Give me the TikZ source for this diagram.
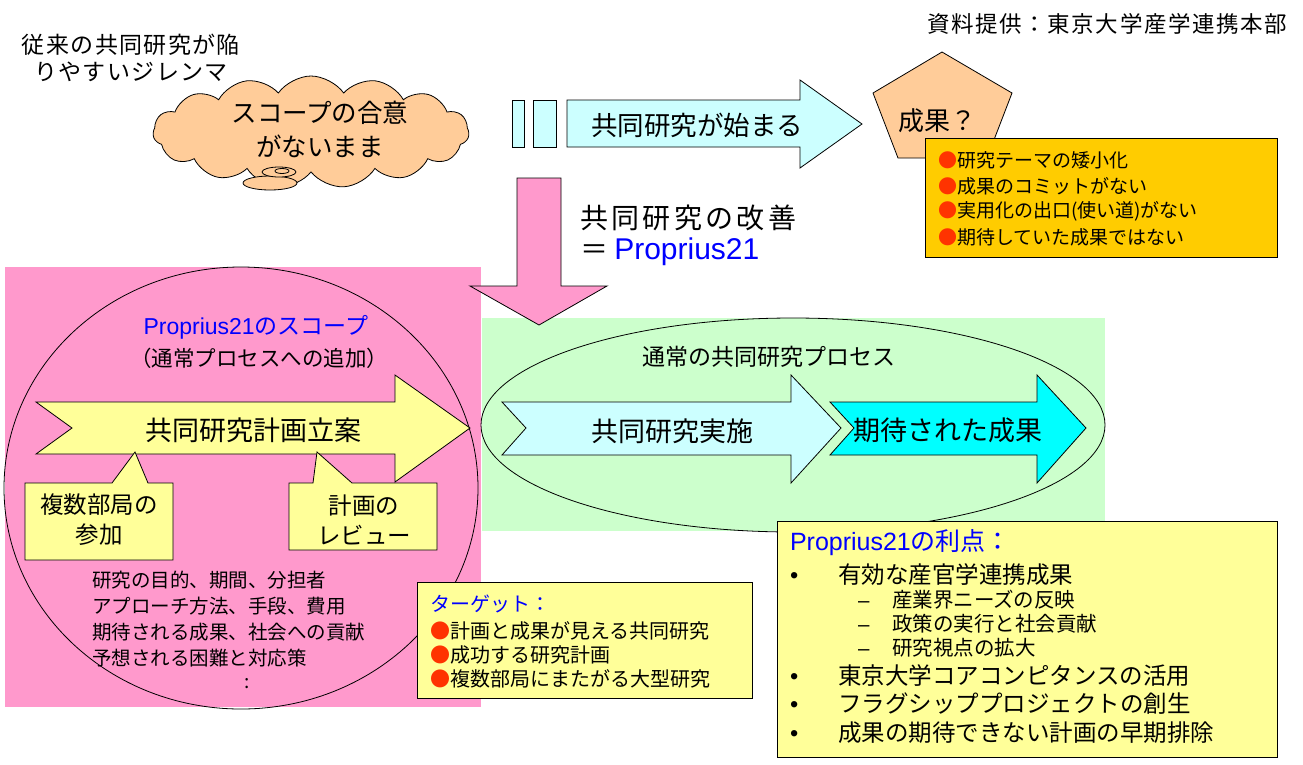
\documentclass[tikz,border=0pt]{standalone}
\usepackage{fontspec}
\setmainfont{Noto Sans CJK JP}
\newfontfamily\latinSty{Liberation Sans}
\usetikzlibrary{shapes.symbols}
\definecolor{peach}{HTML}{FFCC99}
\definecolor{gold}{HTML}{FFCC00}
\definecolor{paleyellow}{HTML}{FFFF99}
\definecolor{pinkbg}{HTML}{FF99CC}
\definecolor{greenbg}{HTML}{CCFFCC}
\definecolor{palecyan}{HTML}{CCFFFF}
\definecolor{brightcyan}{HTML}{00FFFF}
\definecolor{textblue}{HTML}{0000FF}
\definecolor{dotred}{HTML}{FF3300}
\newcommand{\redDot}{{\color{dotred}●}}
\newcommand{\blueSty}[1]{{\color{textblue}#1}}
\newcommand{\fsz}[1]{\fontsize{#1}{1.3\dimexpr#1pt\relax}\selectfont}
\newcommand{\spaced}[1]{\addfontfeature{LetterSpace=#1}}
\tikzset{
  outline/.style={draw=black, line width=0.8pt, line join=miter},
  txt/.style={inner sep=0pt, outer sep=0pt},
}

\begin{document}
\begin{tikzpicture}[x=1pt, y=-1pt]

		% page
		\fill[white] (0,0) rectangle (1303,764);
		\useasboundingbox (0,0) rectangle (1303,764);

		% source
		\node[txt, anchor=east, font=\fsz{22.5}\spaced{7}] (source) at (1287,24) {資料提供：東京大学産学連携本部};

		% dilemma
		\node[txt, align=center, font=\fontsize{23}{27}\selectfont\spaced{6}] (dilemma) at (131,58) {従来の共同研究が陥\\りやすいジレンマ};

		% cloud
		\node[cloud, outline, fill=peach, cloud puffs=15, cloud puff arc=110, aspect=2.8, minimum width=316pt, minimum height=112pt, inner sep=0pt] (cloud) at (311,132) {};
		\draw[outline, fill=peach] (270,183) ellipse [x radius=27pt, y radius=7pt];
		\draw[outline, fill=peach] (279,172) ellipse [x radius=17pt, y radius=5pt];
		\draw[outline, fill=peach] (282,171) ellipse [x radius=7pt, y radius=2.5pt];
		\node[txt, align=center, font=\fontsize{25.5}{34}\selectfont] (scopeless) at (320,129) {スコープの合意\\がないまま};

		% start arrow
		\draw[outline, fill=palecyan] (512,100) rectangle (524,147);
		\draw[outline, fill=palecyan] (533,100) rectangle (556,147);
		\draw[outline, fill=palecyan] (567,100) -- (800,100) -- (800,80) -- (862,124) -- (800,168) -- (800,147) -- (567,147) -- cycle;
		\node[txt, font=\fsz{26.5}] (start) at (697,125) {共同研究が始まる};

		% result?
		\draw[outline, fill=peach] (942,52) -- (1012,93) -- (987,158) -- (898,158) -- (873,93) -- cycle;
		\node[txt, font=\fsz{26}] (result) at (937,121) {成果？};

		% flaws
		\draw[outline, fill=gold] (925,138) rectangle (1277,257);
		\node[txt, anchor=west, font=\fsz{19}] (flawA) at (938,160) {\redDot 研究テーマの矮小化};
		\node[txt, anchor=west, font=\fsz{19}] (flawB) at (938,186) {\redDot 成果のコミットがない};
		\node[txt, anchor=west, font=\fsz{19}] (flawC) at (938,211) {\redDot 実用化の出口(使い道)がない};
		\node[txt, anchor=west, font=\fsz{19}] (flawD) at (938,237) {\redDot 期待していた成果ではない};

		% improvement
		\node[txt, anchor=west, font=\fsz{28}\spaced{12}] (kaizen) at (580,218) {共同研究の改善};
		\node[txt, anchor=west, font=\fsz{28}] (kaizenEq) at (580,252) {＝ \blueSty{\latinSty\fontsize{30}{36}\selectfont Proprius21}};

		% backgrounds
		\fill[pinkbg] (5,267) rectangle (481,707);
		\fill[greenbg] (482,318) rectangle (1105,531);
		\draw[outline] (241,488) ellipse [x radius=237pt, y radius=221pt];
		\draw[outline] (793,425) ellipse [x radius=312pt, y radius=107pt];

		% down arrow
		\draw[outline, fill=pinkbg] (517,178) -- (561,178) -- (561,286) -- (607,286) -- (539,325) -- (470,286) -- (517,286) -- cycle;

		% scope
		\node[txt, font=\fsz{23}] (scopeTitle) at (256,327) {\blueSty{{\latinSty Proprius21}のスコープ}};
		\node[txt, font=\fsz{21.5}] (scopeNote) at (259,358) {（通常プロセスへの追加）};

		% planning arrow
		\draw[outline, fill=paleyellow] (36,402) -- (395,402) -- (395,375) -- (470,428) -- (395,482) -- (395,454) -- (36,454) -- (72,428) -- cycle;
		\node[txt, font=\fsz{27}] (plan) at (253,430) {共同研究計画立案};

		% callouts
		\draw[outline, fill=paleyellow] (25,483) -- (112,483) -- (135,452) -- (148,483) -- (173,483) -- (173,560) -- (25,560) -- cycle;
		\node[txt, align=center, font=\fontsize{23.5}{30}\selectfont] (depts) at (99,520) {複数部局の\\参加};
		\draw[outline, fill=paleyellow] (289,483) -- (313,483) -- (317,452) -- (352,483) -- (437,483) -- (437,550) -- (289,550) -- cycle;
		\node[txt, align=center, font=\fontsize{23.5}{30}\selectfont] (review) at (364,520) {計画の\\レビュー};

		% plan contents
		\node[txt, anchor=west, font=\fsz{19.5}] (itemA) at (92,580) {研究の目的、期間、分担者};
		\node[txt, anchor=west, font=\fsz{19.5}] (itemB) at (92,606) {アプローチ方法、手段、費用};
		\node[txt, anchor=west, font=\fsz{19.5}] (itemC) at (92,632) {期待される成果、社会への貢献};
		\node[txt, anchor=west, font=\fsz{19.5}] (itemD) at (92,658) {予想される困難と対応策};
		\node[txt, font=\fsz{19}] (itemE) at (247,684) {:};

		% normal process
		\node[txt, font=\fsz{23}] (normal) at (769,357) {通常の共同研究プロセス};
		\draw[outline, fill=palecyan] (502,402) -- (791,402) -- (791,375) -- (841,428) -- (791,483) -- (791,455) -- (502,455) -- (526,428) -- cycle;
		\node[txt, font=\fsz{27}] (doing) at (672,431) {共同研究実施};
		\draw[outline, fill=brightcyan] (830,402) -- (1037,402) -- (1037,375) -- (1086,428) -- (1037,483) -- (1037,455) -- (830,455) -- (854,428) -- cycle;
		\node[txt, font=\fsz{27}] (expected) at (948,430) {期待された成果};

		% target
		\draw[outline, fill=paleyellow] (417,582) rectangle (752,698);
		\node[txt, anchor=west, font=\fsz{20}] (target) at (430,604) {\blueSty{ターゲット：}};
		\node[txt, anchor=west, font=\fsz{20}] (targetA) at (430,631) {\redDot 計画と成果が見える共同研究};
		\node[txt, anchor=west, font=\fsz{20}] (targetB) at (430,655) {\redDot 成功する研究計画};
		\node[txt, anchor=west, font=\fsz{20}] (targetC) at (430,679) {\redDot 複数部局にまたがる大型研究};

		% merits
		\draw[outline, fill=paleyellow] (777,521) rectangle (1277,757);
		\node[txt, anchor=west, font=\fsz{25}] (merit) at (790,543) {\blueSty{{\latinSty Proprius21}の利点：}};
		\node[txt, anchor=west, font=\fsz{23.5}] (meritA) at (790,575) {\makebox[48pt][l]{\latinSty •}有効な産官学連携成果};
		\node[txt, anchor=west, font=\fsz{20.5}] (meritAa) at (858,600) {\makebox[34pt][l]{\latinSty –}産業界ニーズの反映};
		\node[txt, anchor=west, font=\fsz{20.5}] (meritAb) at (858,624) {\makebox[34pt][l]{\latinSty –}政策の実行と社会貢献};
		\node[txt, anchor=west, font=\fsz{20.5}] (meritAc) at (858,648) {\makebox[34pt][l]{\latinSty –}研究視点の拡大};
		\node[txt, anchor=west, font=\fsz{23.5}] (meritB) at (790,676) {\makebox[48pt][l]{\latinSty •}東京大学コアコンピタンスの活用};
		\node[txt, anchor=west, font=\fsz{23.5}] (meritC) at (790,704) {\makebox[48pt][l]{\latinSty •}フラグシッププロジェクトの創生};
		\node[txt, anchor=west, font=\fsz{23.5}] (meritD) at (790,733) {\makebox[48pt][l]{\latinSty •}成果の期待できない計画の早期排除};

\end{tikzpicture}
\end{document}
